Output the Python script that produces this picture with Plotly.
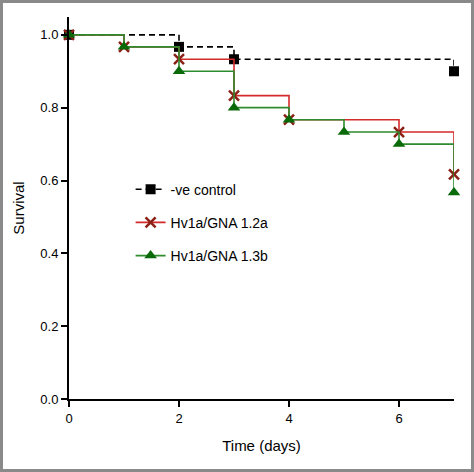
import plotly.graph_objects as go

# Data (Kaplan-Meier style survival steps)
ctrl_days = [0, 2, 3, 7]
ctrl_surv = [1.0, 0.967, 0.933, 0.9]

hv12_days = [0, 1, 2, 3, 4, 6, 7]
hv12_surv = [1.0, 0.967, 0.933, 0.833, 0.767, 0.733, 0.617]

hv13_days = [0, 1, 2, 3, 4, 5, 6, 7]
hv13_surv = [1.0, 0.967, 0.9, 0.8, 0.767, 0.733, 0.7, 0.567]

x_ticks = [0, 2, 4, 6]
y_ticks = [0.0, 0.2, 0.4, 0.6, 0.8, 1.0]

FONT = "Liberation Sans, Arial, sans-serif"

fig = go.Figure()
fig.add_trace(go.Scatter(
    x=ctrl_days, y=ctrl_surv, name="-ve control", mode="lines+markers",
    line=dict(color="black", width=1.6, dash="6px,4px", shape="hv"),
    marker=dict(symbol="square", size=10, color="black"),
    cliponaxis=False, legendgroup="a"))
fig.add_trace(go.Scatter(
    x=hv12_days, y=hv12_surv, name="Hv1a/GNA 1.2a", mode="lines+markers",
    line=dict(color="#d42a2a", width=1.6, shape="hv"),
    marker=dict(symbol="x-thin", size=10, color="#8a2016",
                line=dict(color="#8a2016", width=2.5)),
    cliponaxis=False, legendgroup="b"))
fig.add_trace(go.Scatter(
    x=hv13_days, y=hv13_surv, name="Hv1a/GNA 1.3b", mode="lines+markers",
    line=dict(color="#2e8b2e", width=1.6, shape="hv"),
    marker=dict(symbol="triangle-up", size=11, color="#0a6a0a"),
    cliponaxis=False, legendgroup="c"))

fig.update_layout(
    width=474, height=472,
    margin=dict(l=69, r=20, t=17, b=73),
    paper_bgcolor="white", plot_bgcolor="white",
    font=dict(family=FONT, size=13, color="black"),
    showlegend=True,
    legend=dict(x=0.16, y=0.59, xanchor="left", yanchor="top",
                font=dict(size=14), tracegroupgap=12,
                bgcolor="rgba(0,0,0,0)"),
    xaxis=dict(range=[0, 7], tickvals=x_ticks, ticktext=[str(v) for v in x_ticks],
               showline=True, linecolor="black", linewidth=2, showgrid=False,
               zeroline=False, ticks="outside", ticklen=6, tickwidth=2,
               tickcolor="black", tickfont=dict(size=13),
               title=dict(text="Time (days)", font=dict(size=15), standoff=16)),
    yaxis=dict(range=[0, 1.049], tickvals=y_ticks,
               ticktext=[f"{v:.1f}" for v in y_ticks],
               showline=True, linecolor="black", linewidth=2, showgrid=False,
               zeroline=False, ticks="outside", ticklen=6, tickwidth=2,
               tickcolor="black", tickfont=dict(size=13),
               title=dict(text="Survival", font=dict(size=15), standoff=12)),
)

# gray frame around the whole picture
pw, ph = 474 - 69 - 20, 472 - 17 - 73
fig.add_shape(type="rect", xref="paper", yref="paper",
              x0=-69 / pw + 1.5 / pw, x1=1 + 20 / pw - 1.5 / pw,
              y0=-73 / ph + 1.5 / ph, y1=1 + 17 / ph - 1.5 / ph,
              line=dict(color="#8a8a8a", width=3), layer="below")

fig.write_html("out.html", config={"displayModeBar": False},
               post_script="document.body.style.margin='0';document.body.style.overflow='hidden';")
